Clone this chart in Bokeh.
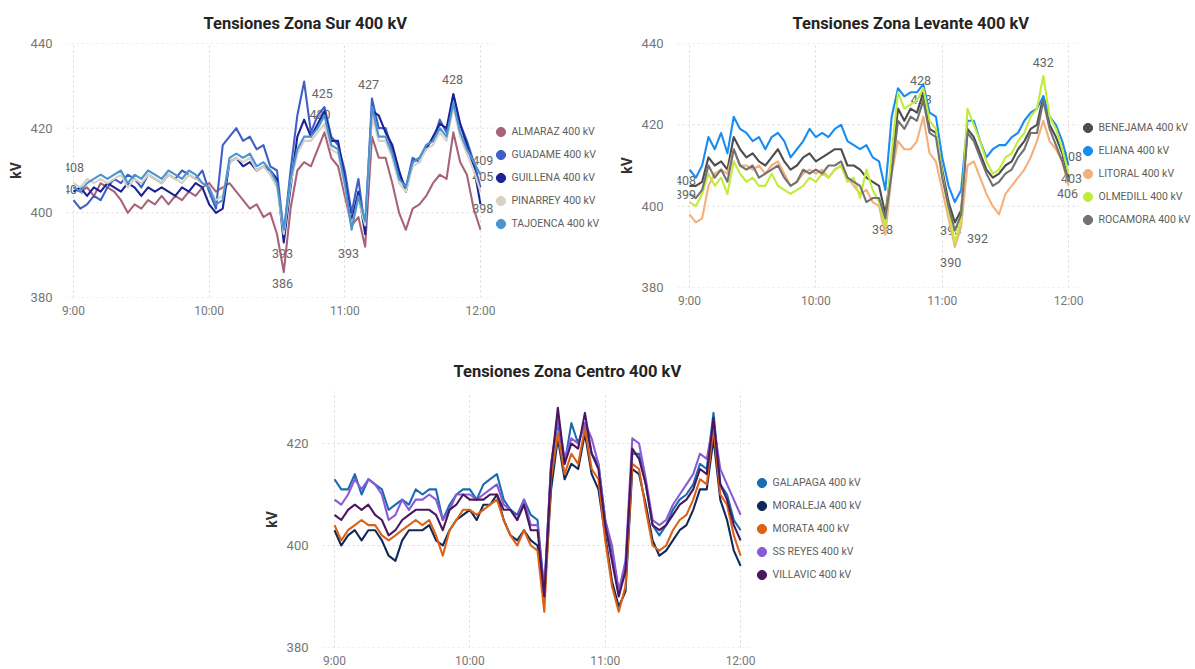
from bokeh.plotting import figure
from bokeh.models import Range1d, FixedTicker, Legend, LegendItem, Spacer
from bokeh.layouts import column, row
from bokeh.embed import file_html
from bokeh.resources import INLINE
from bokeh.core.properties import value

# ---------------- data ----------------
minutes = list(range(0, 181, 3))  # 9:00 .. 12:00 every 3 minutes
x_ticks = [9, 10, 11, 12]
x_tick_labels = ["9:00", "10:00", "11:00", "12:00"]

# Zona Sur
sur_names = ["ALMARAZ 400 kV", "GUADAME 400 kV", "GUILLENA 400 kV", "PINARREY 400 kV", "TAJOENCA 400 kV"]
almaraz = [406, 405, 406, 404, 407, 406, 405, 403, 400, 402,
           401, 403, 402, 404, 402, 404, 403, 405, 404, 406,
           407, 405, 406, 407, 405, 403, 401, 402, 399, 400,
           395, 386, 401, 410, 412, 411, 415, 419, 413, 411,
           404, 397, 399, 392, 418, 413, 413, 407, 400, 396,
           401, 402, 404, 407, 409, 408, 419, 412, 409, 401,
           396]
guadame = [403, 401, 402, 404, 403, 406, 408, 407, 409, 408,
           406, 409, 408, 407, 409, 408, 410, 409, 408, 410,
           405, 401, 416, 418, 420, 417, 418, 415, 416, 411,
           410, 395, 410, 423, 431, 419, 423, 425, 418, 416,
           410, 400, 408, 396, 427, 420, 420, 415, 409, 406,
           413, 412, 416, 417, 422, 419, 428, 421, 417, 412,
           406]
guillena = [405, 406, 404, 406, 405, 407, 406, 405, 407, 406,
            404, 406, 405, 406, 405, 404, 406, 405, 407, 406,
            402, 400, 401, 412, 413, 411, 412, 410, 411, 410,
            408, 393, 406, 418, 422, 418, 421, 424, 417, 417,
            408, 398, 405, 395, 424, 423, 419, 416, 410, 405,
            412, 413, 415, 418, 421, 420, 428, 421, 416, 411,
            402]
pinarrey = [407, 406, 408, 407, 408, 407, 408, 409, 406, 408,
            407, 409, 408, 407, 409, 408, 407, 409, 408, 407,
            406, 403, 404, 412, 413, 412, 413, 410, 411, 409,
            406, 395, 407, 414, 417, 417, 419, 421, 415, 414,
            406, 397, 403, 397, 423, 417, 417, 413, 407, 405,
            411, 412, 415, 416, 419, 417, 425, 418, 414, 410,
            405]
tajoenca = [406, 405, 407, 408, 409, 408, 409, 410, 407, 409,
            408, 410, 409, 408, 410, 409, 408, 410, 409, 407,
            406, 402, 403, 413, 414, 413, 414, 411, 412, 410,
            407, 396, 408, 415, 418, 418, 420, 423, 416, 415,
            407, 396, 404, 398, 425, 418, 418, 414, 408, 406,
            412, 413, 416, 417, 420, 418, 426, 419, 415, 412,
            409]
sur_series = [almaraz, guadame, guillena, pinarrey, tajoenca]
sur_lab_txt = ["408", "404", "393", "386", "425", "420", "427", "393", "428", "409", "405", "398"]
sur_lab_min = [0, 0, 92.4, 92.4, 110, 109, 130.5, 121.6, 167.6, 181, 181, 181]
sur_lab_kv = [410.7, 405.5, 390.4, 383.3, 428.2, 423.2, 430.3, 390.4, 431.5, 412.3, 408.6, 401]

# Zona Levante
lev_names = ["BENEJAMA 400 kV", "ELIANA 400 kV", "LITORAL 400 kV", "OLMEDILL 400 kV", "ROCAMORA 400 kV"]
benejama = [405, 405, 406, 412, 410, 411, 409, 417, 414, 412,
            413, 411, 410, 412, 414, 411, 409, 410, 412, 413,
            411, 412, 413, 414, 414, 410, 410, 409, 407, 406,
            405, 398, 410, 424, 421, 424, 423, 428, 419, 418,
            409, 401, 396, 399, 419, 417, 413, 409, 407, 408,
            410, 411, 414, 416, 419, 420, 427, 420, 417, 413,
            407]
eliana = [409, 407, 410, 417, 414, 418, 413, 422, 419, 418,
          416, 417, 414, 417, 418, 416, 412, 414, 416, 419,
          417, 418, 417, 419, 420, 416, 415, 414, 415, 412,
          411, 404, 422, 429, 427, 428, 428, 430, 423, 422,
          412, 405, 401, 404, 421, 421, 416, 412, 414, 415,
          415, 417, 418, 421, 423, 424, 427, 422, 420, 416,
          410]
litoral = [398, 396, 397, 405, 408, 409, 408, 414, 410, 410,
           409, 410, 408, 410, 411, 408, 405, 406, 408, 409,
           408, 409, 407, 409, 410, 407, 405, 403, 404, 401,
           400, 393, 408, 416, 414, 414, 416, 422, 413, 411,
           404, 397, 390, 395, 410, 411, 407, 403, 400, 398,
           403, 405, 407, 409, 412, 416, 421, 416, 414, 411,
           405]
olmedill = [401, 400, 403, 408, 405, 407, 403, 411, 408, 406,
            407, 405, 405, 408, 405, 404, 403, 404, 405, 407,
            406, 408, 407, 409, 410, 406, 407, 402, 409, 404,
            401, 395, 413, 428, 424, 425, 426, 429, 421, 419,
            408, 399, 391, 397, 424, 420, 416, 411, 408, 409,
            412, 413, 416, 418, 422, 424, 432, 422, 419, 414,
            408]
rocamora = [403, 402, 404, 410, 407, 409, 406, 414, 410, 409,
            410, 407, 408, 409, 410, 407, 405, 406, 409, 408,
            409, 408, 410, 410, 411, 407, 406, 405, 401, 402,
            402, 397, 408, 421, 419, 422, 421, 426, 418, 417,
            407, 400, 394, 398, 418, 416, 412, 408, 405, 406,
            408, 409, 412, 414, 418, 418, 426, 419, 415, 411,
            406]
lev_series = [benejama, eliana, litoral, olmedill, rocamora]
lev_lab_txt = ["408", "399", "398", "428", "423", "393", "390", "392", "432", "408", "403", "406"]
lev_lab_min = [-1.9, -1.9, 91.6, 109.7, 110, 124, 124, 136.8, 168, 181.4, 181.4, 179.5]
lev_lab_kv = [406.3, 402.9, 394.3, 430.9, 426.2, 394, 386.1, 392, 435.3, 412.2, 406.8, 403.1]

# Zona Centro
cen_names = ["GALAPAGA 400 kV", "MORALEJA 400 kV", "MORATA 400 kV", "SS REYES 400 kV", "VILLAVIC 400 kV"]
galapaga = [413, 411, 411, 414, 410, 413, 412, 411, 407, 408,
            409, 408, 411, 410, 411, 411, 405, 408, 410, 411,
            411, 409, 412, 413, 414, 409, 407, 406, 409, 406,
            405, 391, 416, 424, 416, 424, 420, 424, 418, 416,
            405, 399, 391, 396, 418, 418, 412, 404, 402, 404,
            407, 409, 410, 412, 416, 415, 426, 412, 410, 405,
            403]
moraleja = [403, 400, 402, 403, 401, 403, 403, 401, 398, 397,
            401, 403, 403, 403, 404, 401, 400, 403, 405, 406,
            407, 405, 408, 408, 410, 405, 402, 401, 403, 401,
            400, 390, 411, 421, 413, 416, 415, 422, 414, 411,
            402, 393, 388, 391, 415, 414, 408, 401, 398, 399,
            401, 403, 404, 407, 411, 411, 421, 409, 405, 399,
            396]
morata = [404, 401, 403, 404, 405, 404, 404, 402, 401, 402,
          403, 404, 405, 404, 405, 402, 398, 403, 405, 407,
          407, 406, 407, 408, 409, 405, 402, 400, 403, 400,
          399, 387, 413, 422, 414, 418, 416, 423, 415, 413,
          401, 392, 387, 392, 416, 415, 407, 400, 399, 400,
          403, 405, 406, 409, 413, 412, 423, 410, 408, 402,
          398]
ss_reyes = [409, 408, 410, 413, 411, 413, 412, 410, 405, 406,
            409, 407, 409, 409, 410, 409, 405, 407, 410, 410,
            410, 409, 410, 411, 412, 408, 407, 405, 409, 404,
            404, 391, 416, 425, 417, 421, 420, 424, 421, 416,
            405, 400, 391, 397, 421, 420, 413, 405, 404, 405,
            408, 410, 412, 414, 418, 417, 424, 415, 412, 409,
            406]
villavic = [406, 405, 407, 408, 407, 408, 406, 405, 402, 403,
            405, 406, 407, 407, 407, 406, 403, 407, 408, 410,
            409, 409, 409, 410, 410, 407, 407, 405, 408, 403,
            403, 390, 415, 427, 416, 420, 419, 426, 418, 415,
            404, 397, 390, 395, 419, 417, 412, 404, 403, 404,
            406, 408, 409, 411, 415, 414, 425, 412, 409, 404,
            401]
cen_series = [galapaga, moraleja, morata, ss_reyes, villavic]

# ---------------- styling ----------------
FONT = "Roboto"
GRID = "#d9d9d9"
sur_colors = ["#a8637a", "#3f5fc6", "#1a2396", "#d8d0c2", "#4a94d0"]
lev_colors = ["#4d4d4d", "#1a8cf0", "#f3b07c", "#c2ec3c", "#727272"]
cen_colors = ["#1c6bb0", "#0f2a5a", "#dd6115", "#8a5bd8", "#4a165e"]

hours = [9 + m / 60 for m in minutes]


def make_panel(title, title_offset, title_standoff, frame_w, frame_h, borders,
               xr, grid_end, yr, yticks, names, series, colors, legend_pos, labels=None):
    left, right, top, bottom = borders
    p = figure(frame_width=frame_w, frame_height=frame_h,
               x_range=Range1d(*xr), y_range=Range1d(*yr),
               output_backend="svg", toolbar_location=None,
               min_border_left=left, min_border_right=right,
               min_border_top=top, min_border_bottom=bottom)
    p.title.text = title
    p.title.align = "left"
    p.title.offset = title_offset
    p.title.standoff = title_standoff
    p.title.text_font = FONT
    p.title.text_font_size = "16.5px"
    p.title.text_font_style = "bold"
    p.title.text_color = "#252423"
    p.outline_line_color = None
    p.background_fill_color = "white"

    p.xaxis.ticker = FixedTicker(ticks=x_ticks)
    p.xaxis.major_label_overrides = dict(zip(x_ticks, x_tick_labels))
    p.yaxis.ticker = FixedTicker(ticks=yticks)
    for ax in (p.xaxis, p.yaxis):
        ax.axis_line_color = None
        ax.major_tick_line_color = None
        ax.minor_tick_line_color = None
        ax.major_label_text_font = FONT
        ax.major_label_text_color = "#777777"
    p.xaxis.major_label_text_font_size = "12px"
    p.xaxis.major_label_standoff = 0
    p.yaxis.major_label_text_font_size = "13px"
    p.yaxis.major_label_standoff = 8
    p.yaxis.axis_label = "kV"
    p.yaxis.axis_label_text_font = FONT
    p.yaxis.axis_label_text_font_size = "14px"
    p.yaxis.axis_label_text_font_style = "bold"
    p.yaxis.axis_label_text_color = "#333333"
    p.yaxis.axis_label_standoff = 4
    p.xgrid.grid_line_color = GRID
    p.xgrid.grid_line_dash = "2 3"
    p.ygrid.grid_line_color = None
    # horizontal grid lines stop where the plot area ends (legend sits to the right)
    p.segment(x0=[xr[0]] * len(yticks), y0=yticks, x1=[grid_end] * len(yticks), y1=yticks,
              line_color=GRID, line_dash="2 3", line_width=1)

    if labels is not None:
        lt, lm, lk = labels
        p.text(x=[9 + m / 60 for m in lm], y=lk, text=lt,
               text_align="center", text_baseline="middle",
               text_font=value(FONT), text_font_size="12.5px", text_color="#666666")

    items = []
    for name, s, c in zip(names, series, colors):
        p.line(x=hours, y=s, line_width=2.1, line_color=c, line_join="round")
        # off-range point: only used to draw the legend marker
        r = p.scatter(x=[0], y=[0], marker="circle", size=10, fill_color=c, line_color=c)
        items.append(LegendItem(label=name, renderers=[r]))

    legend = Legend(items=items, location=legend_pos, orientation="vertical",
                    glyph_width=23, glyph_height=23, label_height=23, spacing=0,
                    padding=0, margin=0, label_standoff=0,
                    label_text_font=FONT, label_text_font_size="10.5px",
                    label_text_color="#605e5c",
                    border_line_color=None, background_fill_alpha=0)
    p.add_layout(legend)
    return p


p1 = make_panel("Tensiones Zona Sur 400 kV", 137, 22, 534, 254, (66, 0, 43, 33),
                (8.9484, 12.8847), 12.096, (380, 440), [380, 400, 420, 440],
                sur_names, sur_series, sur_colors, (422.5, 62),
                (sur_lab_txt, sur_lab_min, sur_lab_kv))
p2 = make_panel("Tensiones Zona Levante 400 kV", 115, 22, 518, 244, (77, 0, 43, 43),
                (8.905, 13.0044), 12.079, (380, 440), [380, 400, 420, 440],
                lev_names, lev_series, lev_colors, (398.5, 56.5),
                (lev_lab_txt, lev_lab_min, lev_lab_kv))
p3 = make_panel("Tensiones Zona Centro 400 kV", 131, 21, 578, 256, (66, 0, 61, 21),
                (8.9113, 13.1815), 12.089, (380, 430.2), [380, 400, 420],
                cen_names, cen_series, cen_colors, (427.5, 61.5))

layout = column(row(p1, p2), row(Spacer(width=256, height=338), p3))

with open("out.html", "w") as f:
    f.write(file_html(layout, INLINE))
